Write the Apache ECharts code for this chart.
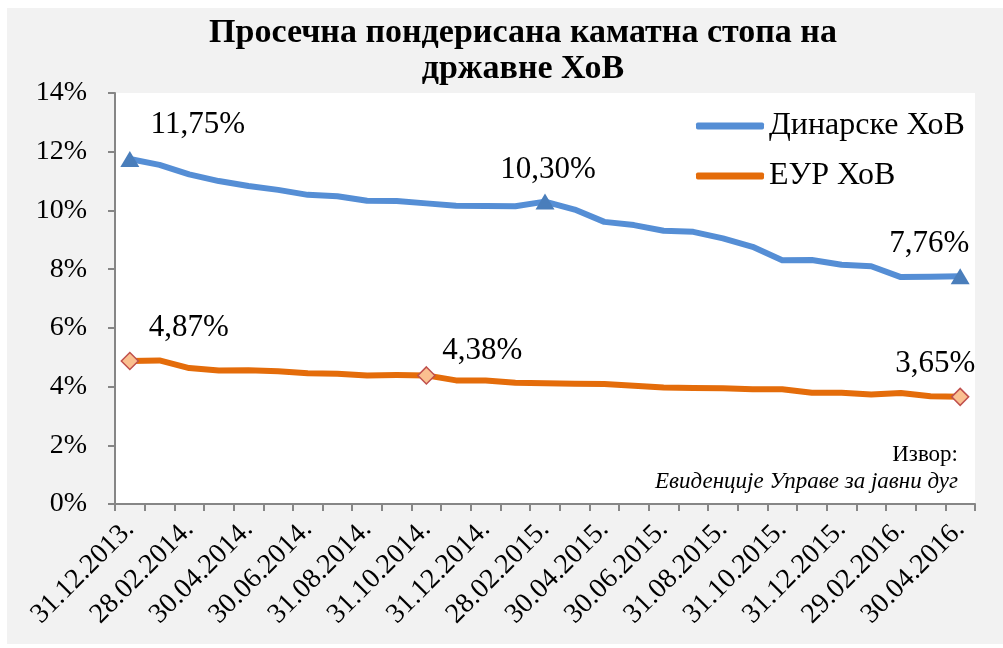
<!DOCTYPE html>
<html lang="en">
<head>
    <meta charset="UTF-8">
    <script src="https://cdn.jsdelivr.net/npm/echarts@6/dist/echarts.min.js"></script>
    <title>Просечна пондерисана каматна стопа на државне ХоВ</title>
    <style>
        body { margin: 0; background: #ffffff; }
        #chart { width: 1003px; height: 648px; }
    </style>
</head>
<body>
    <div id="chart"></div>

    <script>
        var months = ['31.12.2013.', '31.01.2014.', '28.02.2014.', '31.03.2014.', '30.04.2014.', '31.05.2014.',
            '30.06.2014.', '31.07.2014.', '31.08.2014.', '30.09.2014.', '31.10.2014.', '30.11.2014.',
            '31.12.2014.', '31.01.2015.', '28.02.2015.', '31.03.2015.', '30.04.2015.', '31.05.2015.',
            '30.06.2015.', '31.07.2015.', '31.08.2015.', '30.09.2015.', '31.10.2015.', '30.11.2015.',
            '31.12.2015.', '31.01.2016.', '29.02.2016.', '31.03.2016.', '30.04.2016.'];
        var dinarRate = [11.75, 11.55, 11.23, 11.00, 10.83, 10.70, 10.53, 10.48, 10.33, 10.32, 10.24, 10.16,
            10.15, 10.14, 10.30, 10.03, 9.61, 9.50, 9.31, 9.27, 9.05, 8.76, 8.30, 8.31, 8.15, 8.10, 7.73, 7.74, 7.76];
        var euroRate = [4.87, 4.89, 4.63, 4.55, 4.56, 4.52, 4.45, 4.44, 4.38, 4.39, 4.38, 4.21,
            4.21, 4.13, 4.11, 4.10, 4.09, 4.03, 3.97, 3.95, 3.94, 3.91, 3.91, 3.79, 3.79, 3.73, 3.78, 3.67, 3.65];
        var yTicks = [0, 2, 4, 6, 8, 10, 12, 14];

        // which points get a marker and label, with label offsets
        var dinarMarked = { 0: [68, -34], 14: [3, -32], 28: [-31, -32] };
        var euroMarked = { 0: [59, -33], 10: [56, -25], 28: [-25, -33] };

        var font = 'Liberation Serif';

        function fmt(v) {
            return v.toFixed(2).replace('.', ',') + '%';
        }

        function buildData(values, marked, symbol) {
            return values.map(function (v, i) {
                if (!marked[i]) return { value: v, symbol: 'none' };
                return {
                    value: v,
                    symbol: symbol.type,
                    symbolSize: symbol.size,
                    itemStyle: symbol.style,
                    label: {
                        show: true,
                        position: 'inside',
                        offset: marked[i],
                        formatter: function (p) { return fmt(p.value); },
                        fontFamily: font,
                        fontSize: 31,
                        color: '#000'
                    }
                };
            });
        }

        var chart = echarts.init(document.getElementById('chart'));

        var option = {
            backgroundColor: '#ffffff',
            animation: false,
            graphic: [
                { type: 'rect', shape: { x: 7, y: 8, width: 996, height: 636 }, style: { fill: '#f2f2f2' }, z: -10 },
                { type: 'text', x: 958, y: 455, style: { text: 'Извор:', font: '23px "Liberation Serif"', fill: '#000', align: 'right', verticalAlign: 'middle' } },
                { type: 'text', x: 958, y: 482, style: { text: 'Евиденције Управе за јавни дуг', font: 'italic 23px "Liberation Serif"', fill: '#000', align: 'right', verticalAlign: 'middle' } }
            ],
            title: {
                text: 'Просечна пондерисана каматна стопа на\nдржавне ХоВ',
                left: 518,
                top: 10,
                textAlign: 'center',
                textStyle: { fontFamily: font, fontSize: 34, fontWeight: 'bold', lineHeight: 36, color: '#000' }
            },
            legend: {
                orient: 'vertical',
                left: 691,
                top: 105,
                itemWidth: 68,
                itemHeight: 7,
                itemGap: 18,
                icon: 'roundRect',
                textStyle: { fontFamily: font, fontSize: 32, color: '#000' },
                data: ['Динарске ХоВ', 'ЕУР ХоВ']
            },
            grid: {
                left: 115, right: 28, top: 93, bottom: 144,
                show: true, backgroundColor: '#ffffff', borderWidth: 0
            },
            xAxis: {
                type: 'category',
                data: months,
                boundaryGap: true,
                axisLine: { lineStyle: { color: '#868686', width: 2 } },
                axisTick: { show: true, interval: 0, length: 7, lineStyle: { color: '#868686', width: 2 } },
                axisLabel: { interval: 1, rotate: 45, fontFamily: font, fontSize: 28, color: '#000', margin: 21 }
            },
            yAxis: {
                type: 'value',
                min: yTicks[0],
                max: yTicks[yTicks.length - 1],
                interval: 2,
                splitLine: { show: false },
                axisLine: { show: true, lineStyle: { color: '#868686', width: 2 } },
                axisTick: { show: true, length: 7, lineStyle: { color: '#868686', width: 2 } },
                axisLabel: { formatter: '{value}%', fontFamily: font, fontSize: 28, color: '#000', margin: 28 }
            },
            series: [
                {
                    name: 'Динарске ХоВ',
                    type: 'line',
                    color: '#558ed5',
                    lineStyle: { width: 6, color: '#558ed5', join: 'round' },
                    data: buildData(dinarRate, dinarMarked, {
                        type: 'triangle', size: [19, 16], style: { color: '#4a7ebb' }
                    })
                },
                {
                    name: 'ЕУР ХоВ',
                    type: 'line',
                    color: '#e46c0a',
                    lineStyle: { width: 6, color: '#e46c0a', join: 'round' },
                    data: buildData(euroRate, euroMarked, {
                        type: 'diamond', size: [17, 17], style: { color: '#fac090', borderColor: '#c0504d', borderWidth: 1.5 }
                    })
                }
            ]
        };

        chart.setOption(option);
    </script>
</body>
</html>
